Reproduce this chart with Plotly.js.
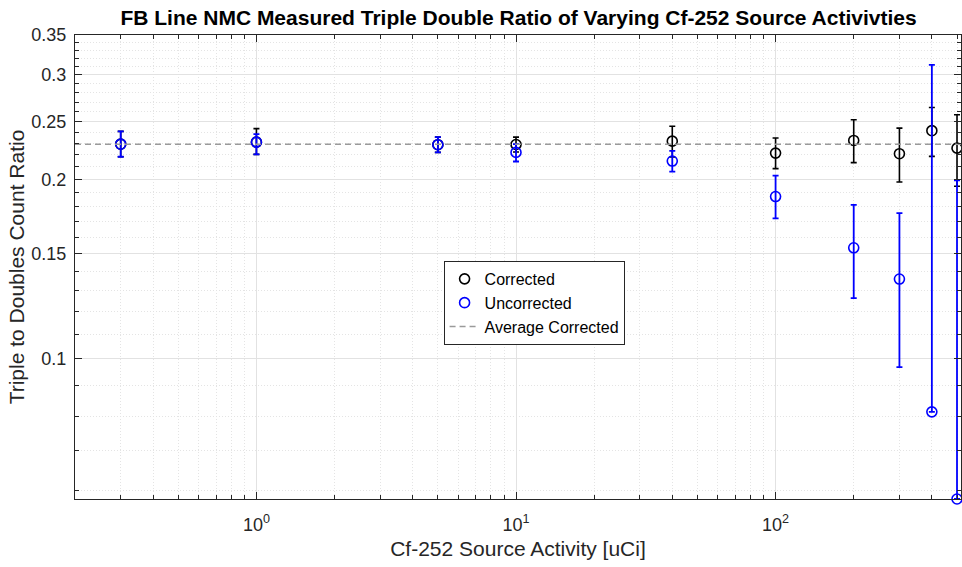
<!DOCTYPE html>
<html>
<head>
<meta charset="utf-8">
<script src="https://cdn.plot.ly/plotly-3.0.1.min.js"></script>
<style>html,body{margin:0;padding:0;background:#fff;}#chart{width:962px;height:567px;}</style>
</head>
<body>
<div id="chart"></div>
<script>
// Source activity [uCi]
const activity = [0.3, 1, 5, 10, 40, 100, 200, 300, 400, 500];
// Corrected triple/doubles ratio and error bars
const corrected = [0.2294, 0.2312, 0.2289, 0.2291, 0.2321, 0.2216, 0.2327, 0.2211, 0.2417, 0.2259];
const correctedErrPlus = [0.0116, 0.0124, 0.0068, 0.0066, 0.0138, 0.0134, 0.0194, 0.0230, 0.0226, 0.0311];
const correctedErrMinus = [0.0109, 0.0107, 0.0067, 0.0066, 0.0138, 0.0129, 0.0191, 0.0229, 0.0229, 0.0310];
// Uncorrected triple/doubles ratio and error bars
const uncorrected = [0.2294, 0.2312, 0.2289, 0.2222, 0.2149, 0.1873, 0.1536, 0.1361, 0.0814, 0.0581];
const uncorrectedErrPlus = [0.0116, 0.0073, 0.0068, 0.0072, 0.0086, 0.0158, 0.0278, 0.0395, 0.2303, 0.1414];
const uncorrectedErrMinus = [0.0109, 0.0107, 0.0067, 0.0077, 0.0086, 0.0152, 0.0272, 0.0393, 0, 0];
// Average corrected ratio
const averageCorrected = corrected.reduce((a, b) => a + b, 0) / corrected.length;
// Axis limits
const xLimits = [0.2, 518];
const yLimits = [0.0581, 0.35];
// Tick labels
const yTickVals = [0.1, 0.15, 0.2, 0.25, 0.3, 0.35];
const yTickText = ['0.1', '0.15', '0.2', '0.25', '0.3', '0.35'];
const xTickVals = [1, 10, 100];
const xTickText = ['10<sup>0</sup>', '10<sup>1</sup>', '10<sup>2</sup>'];
const xMinor = [0.2,0.3,0.4,0.5,0.6,0.7,0.8,0.9,2,3,4,5,6,7,8,9,20,30,40,50,60,70,80,90,200,300,400,500];
const yMinor = [0.06,0.07,0.08,0.09,0.11,0.12,0.13,0.14,0.16,0.17,0.18,0.19,0.21,0.22,0.23,0.24,0.26,0.27,0.28,0.29,0.31,0.32,0.33,0.34];

const FONT = 'Liberation Sans, Arial, Helvetica, sans-serif';
const AXC = '#262626';

const traces = [
  {
    x: activity, y: corrected, name: 'Corrected', type: 'scatter', mode: 'markers',
    marker: {symbol: 'circle-open', size: 10, color: '#000000', line: {width: 1.6, color: '#000000'}},
    error_y: {type: 'data', symmetric: false, array: correctedErrPlus, arrayminus: correctedErrMinus,
              color: '#000000', thickness: 1.6, width: 3},
    cliponaxis: false
  },
  {
    x: activity, y: uncorrected, name: 'Uncorrected', type: 'scatter', mode: 'markers',
    marker: {symbol: 'circle-open', size: 10, color: '#0000ff', line: {width: 1.6, color: '#0000ff'}},
    error_y: {type: 'data', symmetric: false, array: uncorrectedErrPlus, arrayminus: uncorrectedErrMinus,
              color: '#0000ff', thickness: 1.8, width: 3},
    cliponaxis: false
  },
  {
    x: xLimits, y: [averageCorrected, averageCorrected], name: 'Average Corrected',
    type: 'scatter', mode: 'lines',
    line: {color: '#9a9a9a', width: 1.5, dash: '6px,4px'}
  }
];

const layout = {
  width: 962, height: 567,
  margin: {l: 75, r: 1, t: 35, b: 68},
  paper_bgcolor: '#ffffff', plot_bgcolor: '#ffffff',
  font: {family: FONT, color: AXC, size: 17},
  showlegend: true,
  title: {text: '<b>FB Line NMC Measured Triple Double Ratio of Varying Cf-252 Source Activivties</b>',
          font: {family: FONT, size: 21, color: '#000000'}, x: 0.539, xanchor: 'center', y: 0.968, yanchor: 'middle'},
  xaxis: {
    type: 'log', range: [Math.log10(xLimits[0]), Math.log10(xLimits[1])],
    tickmode: 'array', tickvals: xTickVals, ticktext: xTickText,
    ticks: 'inside', ticklen: 7, tickcolor: AXC, tickwidth: 1,
    showline: true, linecolor: AXC, linewidth: 1, mirror: 'ticks',
    showgrid: true, gridcolor: '#e2e2e2', gridwidth: 1,
    zeroline: false,
    tickfont: {size: 18, color: AXC},
    ticklabelstandoff: 9,
    minor: {tickmode: 'array', tickvals: xMinor, ticks: 'inside', ticklen: 4, tickcolor: AXC,
            showgrid: true, gridcolor: '#e4e4e4', griddash: '1px,2px', gridwidth: 1},
    title: {text: 'Cf-252 Source Activity [uCi]', font: {size: 21, color: AXC}, standoff: 7}
  },
  yaxis: {
    type: 'log', range: [Math.log10(yLimits[0]), Math.log10(yLimits[1])],
    tickmode: 'array', tickvals: yTickVals, ticktext: yTickText,
    ticks: 'inside', ticklen: 7, tickcolor: AXC, tickwidth: 1,
    showline: true, linecolor: AXC, linewidth: 1, mirror: 'ticks',
    showgrid: true, gridcolor: '#e2e2e2', gridwidth: 1,
    zeroline: false,
    tickfont: {size: 18, color: AXC},
    ticklabelstandoff: 4,
    minor: {tickmode: 'array', tickvals: yMinor, ticks: 'inside', ticklen: 4, tickcolor: AXC,
            showgrid: true, gridcolor: '#e4e4e4', griddash: '1px,2px', gridwidth: 1},
    title: {text: 'Triple to Doubles Count Ratio', font: {size: 21, color: AXC}, standoff: 1}
  },
  legend: {
    x: 0.416, y: 0.513, xanchor: 'left', yanchor: 'top',
    bgcolor: '#ffffff', bordercolor: AXC, borderwidth: 1,
    font: {size: 16, color: '#000000'}, itemwidth: 30, tracegroupgap: 0
  }
};

Plotly.newPlot('chart', traces, layout, {displayModeBar: false, staticPlot: true});
</script>
</body>
</html>
